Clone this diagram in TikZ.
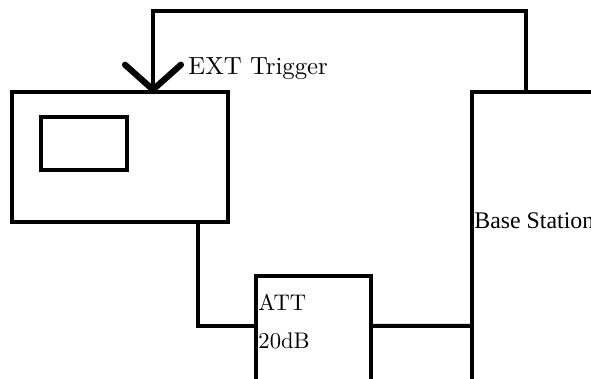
\documentclass[tikz,border=0pt]{standalone}
\usepackage{fontspec}
\newfontfamily\bsfont{Liberation Serif}
\usetikzlibrary{positioning,calc,arrows.meta}

\begin{document}
\begin{tikzpicture}[
    x=0.42pt, y=-0.42pt,
    box/.style={draw, line width=1.7pt, rectangle, inner sep=0pt},
    wire/.style={line width=1.7pt},
    trig/.style={line width=1.7pt, shorten >=-1.2pt, -{Straight Barb[length=10.5pt, width=23.5pt, line width=2.6pt, round]}},
    lbl/.style={inner sep=0pt, anchor=base west, font=\fontsize{9.5}{11}\selectfont} % text sits on its baseline
]
\path[use as bounding box, clip] (0,0) rectangle (591,379);

% --- Boxes ---
\node[box, minimum width=90.72pt, minimum height=54.6pt] (analyzer) at (120,157) {};
\node[box, minimum width=36.12pt, minimum height=22.26pt] (screen) at (84,143.5) {};
\node[box, minimum width=48.3pt, minimum height=60.48pt] (att) at (313.5,348) {};
\node[box, minimum width=70.56pt, minimum height=137.76pt] (bs) at (556,256) {};

% --- Labels ---
\node[lbl, font=\fontsize{10.4}{12}\selectfont] (trigtext) at (188,75) {EXT Trigger};
\node[lbl] (attlbl) at (258,311) {ATT};
\node[lbl] (dblbl) at (258,349) {20dB};
\node[lbl, font=\bsfont\fontsize{10}{12}\selectfont] (bslbl) at (474,229) {Base Station};

% --- Signal path ---
\draw[wire] ($(analyzer.south west)+(188,0)$) |- ($(att.north west)+(0,52)$);
\draw[wire] ($(att.north east)+(0,52)$) -- ($(bs.north west)+(0,236)$);

% --- Trigger line ---
\draw[trig] ($(bs.north west)+(56,0)$) |- ($(analyzer.north west)+(143,-79)$)
    -- ($(analyzer.north west)+(143,0)$);

\end{tikzpicture}
\end{document}
